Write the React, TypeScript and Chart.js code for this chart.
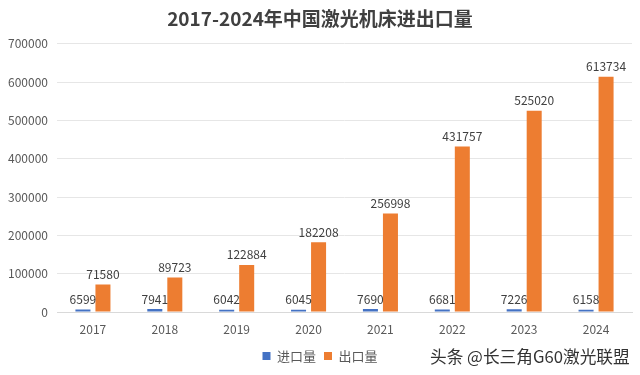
import React, { useEffect, useRef } from "react";
import { Chart, registerables } from "chart.js";

Chart.register(...registerables);

const years = ["2017", "2018", "2019", "2020", "2021", "2022", "2023", "2024"];
const importQty = [6599, 7941, 6042, 6045, 7690, 6681, 7226, 6158];
const exportQty = [71580, 89723, 122884, 182208, 256998, 431757, 525020, 613734];
const seriesNames = ["进口量", "出口量"];
const titleText = "2017-2024年中国激光机床进出口量";
const watermark = "头条 @长三角G60激光联盟";

const FONT = "'Noto Sans CJK SC', 'Noto Sans', sans-serif";

const labelPlugin = {
  id: "barLabels",
  afterDatasetsDraw(chart: any) {
    const ctx = chart.ctx;
    ctx.save();
    ctx.font = `12px ${FONT}`;
    ctx.fillStyle = "#404040";
    ctx.textAlign = "center";
    ctx.textBaseline = "bottom";
    chart.data.datasets.forEach((ds: any, di: number) => {
      const meta = chart.getDatasetMeta(di);
      meta.data.forEach((el: any, i: number) => {
        ctx.fillText(String(ds.data[i]), el.x, el.y - 4);
      });
    });
    ctx.restore();
  },
};

export default function App() {
  const ref = useRef<HTMLCanvasElement>(null);
  useEffect(() => {
    if (!ref.current) return;
    const chart = new Chart(ref.current, {
      type: "bar",
      data: {
        labels: years,
        datasets: [
          {
            label: seriesNames[0],
            data: importQty,
            backgroundColor: "#4472C4",
            categoryPercentage: 0.557,
            barPercentage: 0.75,
          },
          {
            label: seriesNames[1],
            data: exportQty,
            backgroundColor: "#ED7D31",
            categoryPercentage: 0.557,
            barPercentage: 0.75,
          },
        ],
      },
      options: {
        responsive: false,
        animation: false,
        maintainAspectRatio: false,
        layout: { padding: { left: 8, right: 8, top: 0, bottom: 2.5 } },
        plugins: {
          title: {
            display: true,
            text: titleText,
            color: "#404040",
            font: { family: FONT, size: 19, weight: "bold" },
            padding: { top: 7, bottom: 14 },
          },
          legend: {
            position: "bottom",
            labels: {
              color: "#595959",
              font: { family: FONT, size: 13 },
              boxWidth: 8,
              boxHeight: 8,
              padding: 8,
            },
          },
          tooltip: { enabled: false },
        },
        scales: {
          x: {
            grid: { display: false, drawTicks: false },
            border: { color: "#d9d9d9" },
            ticks: { color: "#595959", font: { family: FONT, size: 12 }, padding: 10 },
            afterFit: (scale: any) => {
              scale.height = 29.5;
            },
          },
          y: {
            min: 0,
            max: 700000,
            grid: { color: "#e6e6e6", drawTicks: false },
            border: { display: false },
            ticks: {
              stepSize: 100000,
              color: "#595959",
              font: { family: FONT, size: 12 },
              padding: 9,
              callback: (v: any) => String(v),
            },
            afterFit: (scale: any) => {
              scale.width = 49;
            },
          },
        },
      },
      plugins: [labelPlugin],
    });
    return () => chart.destroy();
  }, []);
  return (
    <div style={{ position: "fixed", left: 0, top: 0, width: 640, height: 375, background: "#fff" }}>
      <canvas ref={ref} width={640} height={375} style={{ display: "block" }} />
      <div
        style={{
          position: "absolute",
          left: 430,
          top: 346,
          fontFamily: FONT,
          fontSize: 16.7,
          color: "#333",
          whiteSpace: "nowrap",
          lineHeight: "20px",
        }}
      >
        {watermark}
      </div>
    </div>
  );
}
